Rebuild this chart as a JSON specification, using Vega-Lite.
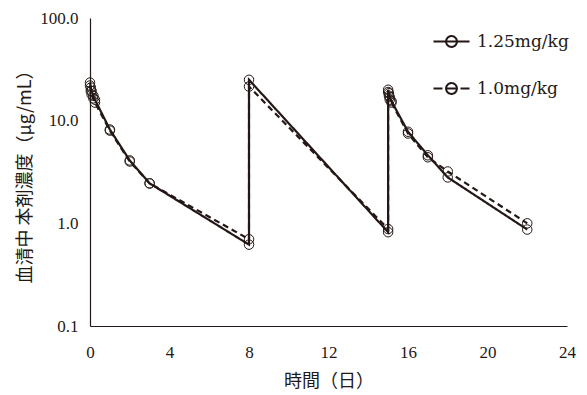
{
  "$schema": "https://vega.github.io/schema/vega-lite/v6.json",
  "width": 477,
  "height": 308,
  "autosize": {"type": "none"},
  "padding": {"left": 90, "top": 18, "right": 20, "bottom": 69},
  "background": "white",
  "config": {
    "view": {"stroke": null},
    "font": "Liberation Serif",
    "axis": {"domainColor": "#231815", "domainWidth": 1.2, "ticks": false, "grid": false, "labelFlush": false,
             "labelFont": "Liberation Serif", "labelFontSize": 17, "labelColor": "#231815",
             "titleFont": "Noto Sans CJK JP", "titleFontSize": 18, "titleFontWeight": "normal", "titleColor": "#231815"}
  },
  "data": {"values": [
    {"i": 1, "t": 0, "c": 23.5, "s": "1.25mg/kg"},
    {"i": 2, "t": 0.04, "c": 21, "s": "1.25mg/kg"},
    {"i": 3, "t": 0.08, "c": 19.5, "s": "1.25mg/kg"},
    {"i": 4, "t": 0.17, "c": 17.5, "s": "1.25mg/kg"},
    {"i": 5, "t": 0.25, "c": 16, "s": "1.25mg/kg"},
    {"i": 6, "t": 1, "c": 8.2, "s": "1.25mg/kg"},
    {"i": 7, "t": 2, "c": 4.1, "s": "1.25mg/kg"},
    {"i": 8, "t": 3, "c": 2.45, "s": "1.25mg/kg"},
    {"i": 9, "t": 8, "c": 0.62, "s": "1.25mg/kg"},
    {"i": 10, "t": 8, "c": 25, "s": "1.25mg/kg"},
    {"i": 11, "t": 15, "c": 0.82, "s": "1.25mg/kg"},
    {"i": 12, "t": 15, "c": 20, "s": "1.25mg/kg"},
    {"i": 13, "t": 15.04, "c": 18.5, "s": "1.25mg/kg"},
    {"i": 14, "t": 15.08, "c": 17, "s": "1.25mg/kg"},
    {"i": 15, "t": 15.17, "c": 15.5, "s": "1.25mg/kg"},
    {"i": 16, "t": 16, "c": 7.8, "s": "1.25mg/kg"},
    {"i": 17, "t": 17, "c": 4.6, "s": "1.25mg/kg"},
    {"i": 18, "t": 18, "c": 2.8, "s": "1.25mg/kg"},
    {"i": 19, "t": 22, "c": 0.87, "s": "1.25mg/kg"},
    {"i": 1, "t": 0, "c": 22, "s": "1.0mg/kg"},
    {"i": 2, "t": 0.04, "c": 19.5, "s": "1.0mg/kg"},
    {"i": 3, "t": 0.08, "c": 18, "s": "1.0mg/kg"},
    {"i": 4, "t": 0.17, "c": 16.5, "s": "1.0mg/kg"},
    {"i": 5, "t": 0.25, "c": 15, "s": "1.0mg/kg"},
    {"i": 6, "t": 1, "c": 8.0, "s": "1.0mg/kg"},
    {"i": 7, "t": 2, "c": 4.0, "s": "1.0mg/kg"},
    {"i": 8, "t": 3, "c": 2.45, "s": "1.0mg/kg"},
    {"i": 9, "t": 8, "c": 0.7, "s": "1.0mg/kg"},
    {"i": 10, "t": 8, "c": 21.5, "s": "1.0mg/kg"},
    {"i": 11, "t": 15, "c": 0.88, "s": "1.0mg/kg"},
    {"i": 12, "t": 15, "c": 19, "s": "1.0mg/kg"},
    {"i": 13, "t": 15.04, "c": 17.5, "s": "1.0mg/kg"},
    {"i": 14, "t": 15.08, "c": 16, "s": "1.0mg/kg"},
    {"i": 15, "t": 15.17, "c": 15, "s": "1.0mg/kg"},
    {"i": 16, "t": 16, "c": 7.5, "s": "1.0mg/kg"},
    {"i": 17, "t": 17, "c": 4.4, "s": "1.0mg/kg"},
    {"i": 18, "t": 18, "c": 3.2, "s": "1.0mg/kg"},
    {"i": 19, "t": 22, "c": 1.0, "s": "1.0mg/kg"}
  ]},
  "encoding": {
    "x": {"field": "t", "type": "quantitative", "title": "時間（日）",
          "scale": {"domain": [0, 24], "nice": false},
          "axis": {"values": [0, 4, 8, 12, 16, 20, 24], "labelPadding": 18, "titlePadding": 12}},
    "y": {"field": "c", "type": "quantitative", "title": "血清中 本剤濃度（μg/mL）",
          "scale": {"type": "log", "domain": [0.1, 100], "nice": false},
          "axis": {"values": [0.1, 1, 10, 100], "format": ".1f", "labelPadding": 12, "titlePadding": 5}}
  },
  "layer": [
    {
      "mark": {"type": "line", "strokeWidth": 2.2},
      "encoding": {
        "order": {"field": "i", "type": "quantitative"},
        "detail": {"field": "s"},
        "strokeDash": {"field": "s", "type": "nominal",
          "scale": {"domain": ["1.0mg/kg", "1.25mg/kg"], "range": [[6, 4], [1, 0]]},
          "legend": null},
        "color": {"field": "s", "type": "nominal",
          "scale": {"domain": ["1.25mg/kg", "1.0mg/kg"], "range": ["#231815", "#231815"]},
          "legend": {"title": null, "orient": "none", "legendX": 342, "legendY": 4,
                     "symbolSize": 1300, "symbolStrokeWidth": 2, "symbolOpacity": 1,
                     "symbolFillColor": "transparent",
                     "labelFont": "DejaVu Serif", "labelFontSize": 17, "labelColor": "#231815",
                     "labelOffset": 6, "rowPadding": 18,
                     "encode": {"symbols": {"update": {
                       "shape": {"signal": "datum.value === '1.0mg/kg' ? 'M -1 0 L -0.5 0 M 0.5 0 L 1 0 M -0.3 0 A 0.3 0.3 0 1 1 0.3 0 A 0.3 0.3 0 1 1 -0.3 0 M -0.3 0 L 0.3 0' : 'M -1 0 L -0.3 0 M 0.3 0 L 1 0 M -0.3 0 A 0.3 0.3 0 1 1 0.3 0 A 0.3 0.3 0 1 1 -0.3 0 M -0.3 0 L 0.3 0'"},
                       "strokeDash": {"value": [1, 0]}
                     }}}}}
      }
    },
    {
      "mark": {"type": "point", "shape": "circle", "filled": false, "color": "#231815", "size": 90, "strokeWidth": 1, "opacity": 1},
      "encoding": {"detail": {"field": "s"}}
    }
  ]
}
